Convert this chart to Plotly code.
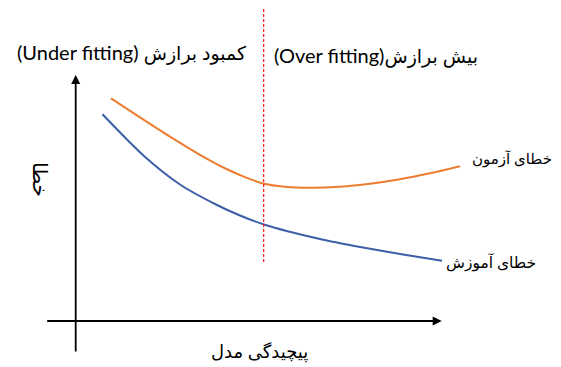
import plotly.graph_objects as go

# Conceptual data (model complexity vs. error, arbitrary units)
test_x = [0.965, 1.757, 2.577, 3.396, 4.079, 4.626, 5.145, 5.719, 6.402, 7.221, 8.041, 8.860, 9.680, 10.500]
test_y = [9.053, 8.280, 7.496, 6.758, 6.209, 5.846, 5.581, 5.459, 5.419, 5.459, 5.581, 5.764, 6.008, 6.293]
train_x = [0.732, 1.866, 2.850, 3.833, 4.489, 5.145, 6.675, 7.768, 8.861, 10.008]
train_y = [8.402, 6.707, 5.549, 4.736, 4.289, 3.923, 3.333, 3.008, 2.724, 2.451]

split_x = 5.137
split_y = [2.40, 12.68]

x_axis_ext = [-0.82, 10.0]
y_axis_ext = [-1.3, 10.0]

label_test = "خطای آزمون"
label_train = "خطای آموزش"
label_under_en = "(Under fitting) "
label_under_fa = "کمبود برازش"
label_over_en = "(Over fitting)"
label_over_fa = "بیش برازش"
label_x = "پیچیدگی مدل"
label_y = "خطا"

ORANGE = "#ED7D31"
BLUE = "#3D5FA8"
FONT = "Lato, DejaVu Sans, sans-serif"

fig = go.Figure()
fig.add_trace(go.Scatter(x=test_x, y=test_y, mode="lines",
                         line=dict(color=ORANGE, width=2, shape="spline", smoothing=0.8),
                         hoverinfo="skip"))
fig.add_trace(go.Scatter(x=train_x, y=train_y, mode="lines",
                         line=dict(color=BLUE, width=2, shape="spline", smoothing=0.8),
                         hoverinfo="skip"))

fig.add_shape(type="line", x0=split_x, x1=split_x, y0=split_y[0], y1=split_y[1],
              xref="x", yref="y", line=dict(color="#FF0000", width=1.1, dash="3px,2px"))

fa = lambda s, size: f'<span style="font-size:{size}px">{s}</span>'

annotations = [
    # axes arrows
    dict(x=x_axis_ext[1], y=0, ax=x_axis_ext[0], ay=0, xref="x", yref="y", axref="x", ayref="y",
         showarrow=True, arrowhead=2, arrowsize=1, arrowwidth=1.8, arrowcolor="black", text=""),
    dict(x=0, y=y_axis_ext[1], ax=0, ay=y_axis_ext[0], xref="x", yref="y", axref="x", ayref="y",
         showarrow=True, arrowhead=2, arrowsize=1, arrowwidth=1.8, arrowcolor="black", text=""),
    dict(x=-1.67, y=10.935, xref="x", yref="y", text=label_under_en + fa(label_under_fa, 19),
         showarrow=False, xanchor="left", yanchor="middle",
         font=dict(family=FONT, size=20, color="black")),
    dict(x=5.369, y=10.813, xref="x", yref="y", text=label_over_en + fa(label_over_fa, 19),
         showarrow=False, xanchor="left", yanchor="middle",
         font=dict(family=FONT, size=20, color="black")),
    dict(x=13.08, y=6.62, xref="x", yref="y", text=label_test, showarrow=False,
         xanchor="right", yanchor="middle", font=dict(family=FONT, size=15, color="black")),
    dict(x=12.62, y=2.36, xref="x", yref="y", text=label_train, showarrow=False,
         xanchor="right", yanchor="middle", font=dict(family=FONT, size=15.5, color="black")),
    dict(x=5.035, y=-1.26, xref="x", yref="y", text=label_x, showarrow=False,
         xanchor="center", yanchor="middle", font=dict(family=FONT, size=18, color="black")),
    dict(x=-0.948, y=5.73, xref="x", yref="y", text=label_y, showarrow=False, textangle=90,
         xanchor="center", yanchor="middle", font=dict(family=FONT, size=20, color="black")),
]

fig.update_layout(
    width=561, height=367,
    margin=dict(l=0, r=0, t=0, b=0),
    paper_bgcolor="white", plot_bgcolor="white",
    showlegend=False,
    xaxis=dict(visible=False, range=[-2.068, 13.26], fixedrange=True),
    yaxis=dict(visible=False, range=[-1.870, 13.049], fixedrange=True),
    annotations=annotations,
)

fig.write_html("out.html", config={"staticPlot": True},
               post_script="document.body.style.margin='0';document.body.style.padding='0';")
